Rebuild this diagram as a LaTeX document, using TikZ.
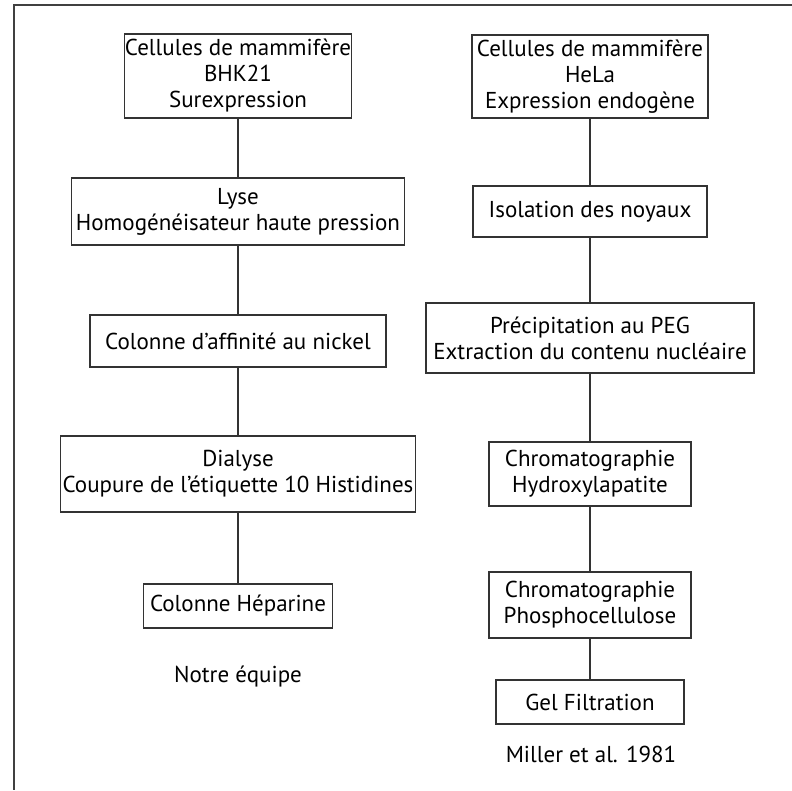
\documentclass[tikz,border=0pt]{standalone}
\usepackage{fontspec}
\setmainfont{PT Sans}
\begin{document}
\begin{tikzpicture}[x=1pt, y=-1pt,
    procbox/.style={draw=black!80, line width=1.4pt, align=center, inner sep=0pt,
        font=\fontsize{23}{26}\selectfont},
    srclabel/.style={font=\fontsize{23}{26}\selectfont},
    link/.style={draw=black!80, line width=1.4pt}]
    \useasboundingbox (0,0) rectangle (792,790);

    % Frame (top and left edges)
    \draw[black!75, line width=1.6pt] (792,5) -- (14,5) -- (14,790);

    % Left column: our team
    \node[procbox, minimum width=227, minimum height=84] (bhk) at (238,76)
        {Cellules de mammifère\\BHK21\\Surexpression};
    \node[procbox, minimum width=333, minimum height=67] (lyse) at (238,211.5)
        {Lyse\\Homogénéisateur haute pression};
    \node[procbox, minimum width=296, minimum height=52] (nickel) at (238,341)
        {Colonne d’affinité au nickel};
    \node[procbox, minimum width=355, minimum height=76] (dialyse) at (238,474)
        {Dialyse\\Coupure de l’étiquette 10 Histidines};
    \node[procbox, minimum width=189, minimum height=44] (heparine) at (238,606)
        {Colonne Héparine};
    \node[srclabel] (equipe) at (238,677) {Notre équipe};

    % Right column: Miller et al.
    \node[procbox, minimum width=236, minimum height=83] (hela) at (590,76.5)
        {Cellules de mammifère\\HeLa\\Expression endogène};
    \node[procbox, minimum width=234, minimum height=51] (noyaux) at (590,211.5)
        {Isolation des noyaux};
    \node[procbox, minimum width=328, minimum height=70] (peg) at (590,338)
        {Précipitation au PEG\\Extraction du contenu nucléaire};
    \node[procbox, minimum width=202, minimum height=64] (hydroxy) at (590,474)
        {Chromatographie\\Hydroxylapatite};
    \node[procbox, minimum width=202, minimum height=66] (phospho) at (590,605)
        {Chromatographie\\Phosphocellulose};
    \node[procbox, minimum width=188, minimum height=44] (gel) at (590,702)
        {Gel Filtration};
    \node[srclabel] (miller) at (591,754) {Miller et al. 1981};

    % Connectors
    \draw[link] (bhk) -- (lyse);
    \draw[link] (lyse) -- (nickel);
    \draw[link] (nickel) -- (dialyse);
    \draw[link] (dialyse) -- (heparine);

    \draw[link] (hela) -- (noyaux);
    \draw[link] (noyaux) -- (peg);
    \draw[link] (peg) -- (hydroxy);
    \draw[link] (hydroxy) -- (phospho);
    \draw[link] (phospho) -- (gel);
\end{tikzpicture}
\end{document}
